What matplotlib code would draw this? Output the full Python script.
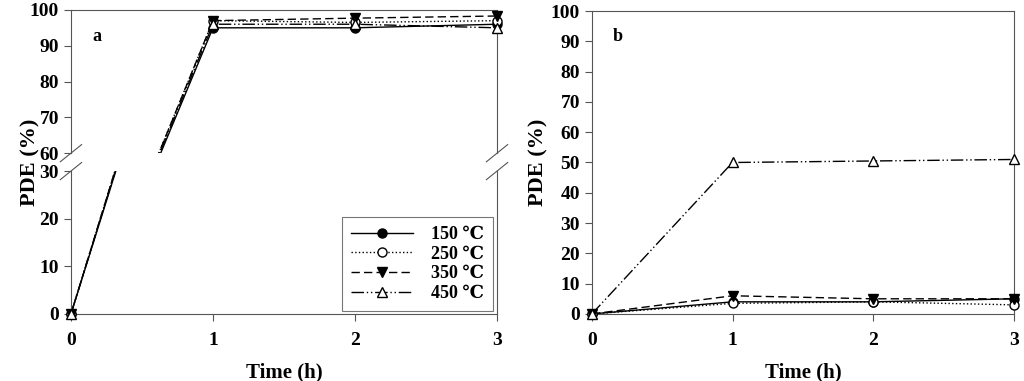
import matplotlib.pyplot as plt

plt.rcParams['font.family'] = ['Liberation Serif', 'DejaVu Serif', 'Noto Sans CJK SC']
plt.rcParams['font.weight'] = 'bold'

time = [0, 1, 2, 3]
labels = ['150 ℃', '250 ℃', '350 ℃', '450 ℃']

# panel a
a_150 = [0, 95, 95, 96]
a_250 = [0, 97, 96.5, 97]
a_350 = [0, 97, 97.7, 98.3]
a_450 = [0, 96, 96, 95]

# panel b
b_150 = [0, 4, 4, 5]
b_250 = [0, 3.5, 4, 3]
b_350 = [0, 6, 5, 5]
b_450 = [0, 50, 50.5, 51]

styles = [
    dict(ls='-', marker='o', mfc='black'),
    dict(ls=':', marker='o', mfc='white'),
    dict(ls=(0, (6, 3)), marker='v', mfc='black'),
    dict(ls=(0, (9, 2, 1, 2, 1, 2)), marker='^', mfc='white'),
]
spine_col = '#555555'
TS = 14


def draw(ax, series, lo, hi):
    for vals, st, lab in zip(series, styles, labels):
        st = dict(st)
        mk = st.pop('marker')
        mfc = st.pop('mfc')
        # line (clipped to axes)
        ax.plot(time, vals, color='black', lw=1, **st)
        # markers inside this axis range, not clipped at edges
        xs = [t for t, v in zip(time, vals) if lo <= v <= hi]
        ys = [v for v in vals if lo <= v <= hi]
        ax.plot(xs, ys, ls='none', marker=mk, mfc=mfc, mec='black', ms=6.5,
                clip_on=False, zorder=3)
        # proxy for legend
        ax.plot([], [], color='black', lw=1, marker=mk, mfc=mfc, mec='black',
                ms=6.5, label=lab, **st)


def style(ax):
    for s in ax.spines.values():
        s.set_color(spine_col)
    ax.tick_params(direction='out', length=5, color=spine_col, labelsize=TS)
    ax.tick_params(axis='x', pad=8)
    for t in ax.get_xticklabels() + ax.get_yticklabels():
        t.set_fontweight('bold')


fig = plt.figure(figsize=(10.24, 3.81), dpi=100)

# panel a - broken axis
ax_top = fig.add_axes([0.0693, 0.598, 0.4161, 0.376])
ax_bot = fig.add_axes([0.0693, 0.176, 0.4161, 0.375])
a_series = [a_150, a_250, a_350, a_450]
draw(ax_top, a_series, 60, 100)
draw(ax_bot, a_series, 0, 30)
for ax in (ax_top, ax_bot):
    ax.set_xlim(0, 3)
    ax.set_xticks(time)
ax_top.set_ylim(60, 100)
ax_top.set_yticks([60, 70, 80, 90, 100])
ax_bot.set_ylim(0, 30)
ax_bot.set_yticks([0, 10, 20, 30])
ax_top.spines['bottom'].set_visible(False)
ax_bot.spines['top'].set_visible(False)
ax_top.tick_params(bottom=False, labelbottom=False)
style(ax_top)
style(ax_bot)

# break marks
kw = dict(color=spine_col, lw=0.8, clip_on=False)
for xx in (0, 1):
    ax_top.plot([xx - 0.025, xx + 0.025], [-0.06, 0.06], transform=ax_top.transAxes, **kw)
    ax_bot.plot([xx - 0.025, xx + 0.025], [0.94, 1.06], transform=ax_bot.transAxes, **kw)

ax_top.text(0.05, 0.78, 'a', transform=ax_top.transAxes, fontsize=13, fontweight='bold')
ax_bot.set_xlabel('Time (h)', fontsize=15, fontweight='bold', labelpad=10)
fig.text(0.03, 0.575, 'PDE (%)', rotation=90, ha='center', va='center',
         fontsize=16, fontweight='bold')

leg = ax_bot.legend(loc='lower right', bbox_to_anchor=(0.99, 0.02), frameon=True,
                    fancybox=False, edgecolor=spine_col, handlelength=3.4,
                    prop=dict(size=13, weight='bold'), labelspacing=0.15,
                    borderpad=0.5, handletextpad=1.0, borderaxespad=0)
leg.get_frame().set_linewidth(0.8)

# panel b
ax_b = fig.add_axes([0.578, 0.176, 0.412, 0.795])
draw(ax_b, [b_150, b_250, b_350, b_450], 0, 100)
ax_b.set_xlim(0, 3)
ax_b.set_xticks(time)
ax_b.set_ylim(0, 100)
ax_b.set_yticks(range(0, 101, 10))
style(ax_b)
ax_b.text(0.05, 0.9, 'b', transform=ax_b.transAxes, fontsize=13, fontweight='bold')
ax_b.set_xlabel('Time (h)', fontsize=15, fontweight='bold', labelpad=10)
ax_b.set_ylabel('PDE (%)', fontsize=16, fontweight='bold', labelpad=2)

fig.savefig('out.png', dpi=100)
